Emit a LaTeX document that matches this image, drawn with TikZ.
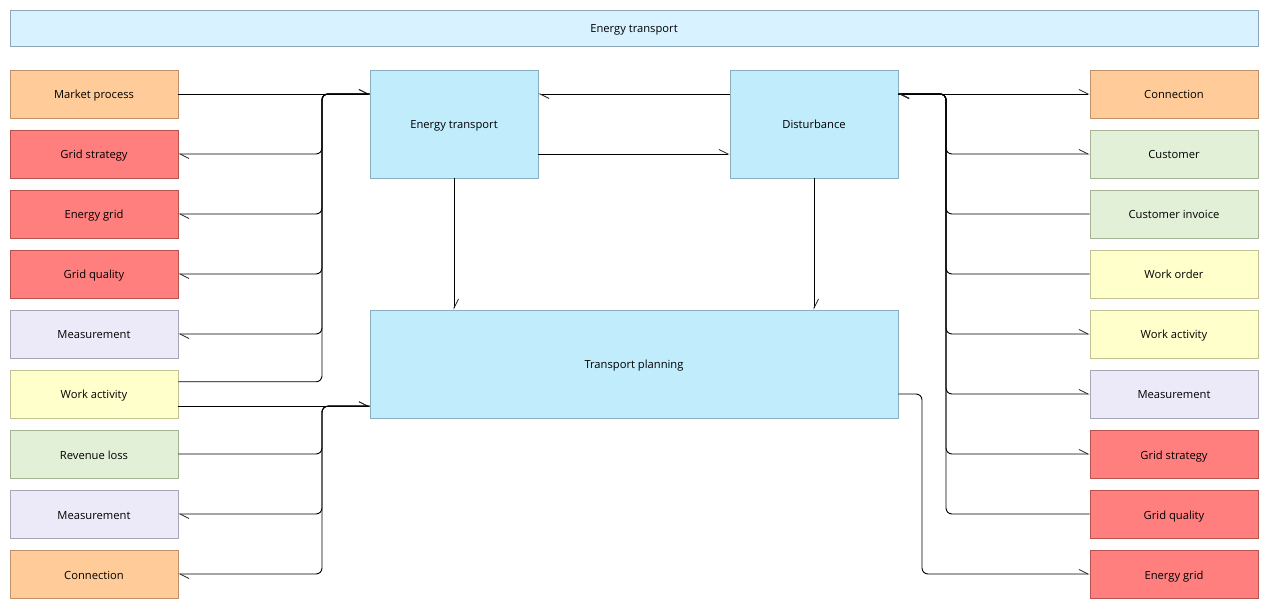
\documentclass[tikz,border=0pt]{standalone}
\usepackage{fontspec}
\setmainfont{Open Sans}
\usetikzlibrary{arrows.meta,calc}
\definecolor{orfill}{HTML}{FFCC99}\definecolor{ordraw}{HTML}{C09068}
\definecolor{rdfill}{HTML}{FF7F7F}\definecolor{rddraw}{HTML}{B85450}
\definecolor{lvfill}{HTML}{ECEAF8}\definecolor{lvdraw}{HTML}{A8A6B6}
\definecolor{ylfill}{HTML}{FFFFCC}\definecolor{yldraw}{HTML}{C2C292}
\definecolor{gnfill}{HTML}{E3F0D8}\definecolor{gndraw}{HTML}{A6B496}
\definecolor{bufill}{HTML}{C1ECFC}\definecolor{budraw}{HTML}{88AEC0}
\definecolor{ttfill}{HTML}{D9F2FF}\definecolor{ttdraw}{HTML}{8AA8B8}
\begin{document}
\begin{tikzpicture}[x=1pt,y=-1pt,
  box/.style={draw,line width=0.8pt,minimum width=168pt,minimum height=48pt,inner sep=0pt,
    text height=10pt,text depth=0pt,font=\fontsize{11.2}{13}\selectfont},
  ob/.style={box,fill=orfill,draw=ordraw},
  rb/.style={box,fill=rdfill,draw=rddraw},
  lb/.style={box,fill=lvfill,draw=lvdraw},
  yb/.style={box,fill=ylfill,draw=yldraw},
  gb/.style={box,fill=gnfill,draw=gndraw},
  bb/.style={box,fill=bufill,draw=budraw,minimum height=108pt},
  conn/.style={line width=0.9pt,rounded corners=6pt},
  arr/.style={conn,-{Straight Barb[left,length=9pt,width=9pt,line width=0.8pt,color=black!85]}}
]
\useasboundingbox (0,0) rectangle (1269,609);
\node[box,fill=ttfill,draw=ttdraw,minimum width=1248pt,minimum height=36pt] (T) at (634,28) {Energy transport};
% left column
\node[ob] (MP) at (94,94) {Market process};
\node[rb] (GS) at (94,154) {Grid strategy};
\node[rb] (EG) at (94,214) {Energy grid};
\node[rb] (GQ) at (94,274) {Grid quality};
\node[lb] (ME) at (94,334) {Measurement};
\node[yb] (WA) at (94,394) {Work activity};
\node[gb] (RL) at (94,454) {Revenue loss};
\node[lb] (MB) at (94,514) {Measurement};
\node[ob] (CO) at (94,574) {Connection};
% right column
\node[ob] (CN) at (1174,94) {Connection};
\node[gb] (CU) at (1174,154) {Customer};
\node[gb] (CI) at (1174,214) {Customer invoice};
\node[yb] (WO) at (1174,274) {Work order};
\node[yb] (WR) at (1174,334) {Work activity};
\node[lb] (MR) at (1174,394) {Measurement};
\node[rb] (GR) at (1174,454) {Grid strategy};
\node[rb] (QR) at (1174,514) {Grid quality};
\node[rb] (ER) at (1174,574) {Energy grid};
% centre
\node[bb] (ET) at (454,124) {Energy transport};
\node[bb] (DI) at (814,124) {Disturbance};
\node[bb,minimum width=528pt] (TP) at (634,364) {Transport planning};
% helper coordinates
\coordinate (busL) at (322,0);
\coordinate (busR) at (946,0);
\coordinate (busT) at (922,0);
\coordinate (wa1) at ($(WA.east)!0.5!(WA.north east)$);
\coordinate (wa2) at ($(WA.east)!0.5!(WA.south east)$);
\coordinate (etin) at (ET.west |- MP.east);
\coordinate (tpin) at (TP.west |- wa2);
\coordinate (dout) at (DI.east |- CN.west);
\coordinate (tpout) at (TP.east |- MR.west);
% left side connectors
\draw[arr] (MP.east) -- (etin);
\draw[arr] (wa1) -| (busL |- etin) -- (etin);
\draw[arr] (etin) -| (busL |- GS.east) -- (GS.east);
\draw[arr] (etin) -| (busL |- EG.east) -- (EG.east);
\draw[arr] (etin) -| (busL |- GQ.east) -- (GQ.east);
\draw[arr] (etin) -| (busL |- ME.east) -- (ME.east);
\draw[arr] (wa2) -- (tpin);
\draw[arr] (RL.east) -| (busL |- tpin) -- (tpin);
\draw[arr] (tpin) -| (busL |- MB.east) -- (MB.east);
\draw[arr] (tpin) -| (busL |- CO.east) -- (CO.east);
% centre connectors
\draw[arr] (DI.west |- MP.east) -- (ET.east |- MP.east);
\draw[arr] (ET.east |- GS.east) -- (DI.west |- GS.east);
\draw[arr] (ET.south) -- (ET.south |- TP.north);
\draw[arr] (DI.south) -- (DI.south |- TP.north);
% right side connectors
\draw[arr] (dout) -- (CN.west);
\draw[arr] (dout) -| (busR |- CU.west) -- (CU.west);
\draw[arr] (CI.west) -| (busR |- dout) -- (dout);
\draw[arr] (WO.west) -| (busR |- dout) -- (dout);
\draw[arr] (dout) -| (busR |- WR.west) -- (WR.west);
\draw[arr] (dout) -| (busR |- MR.west) -- (MR.west);
\draw[arr] (dout) -| (busR |- GR.west) -- (GR.west);
\draw[arr] (QR.west) -| (busR |- dout) -- (dout);
\draw[arr] (tpout) -| (busT |- ER.west) -- (ER.west);
\end{tikzpicture}
\end{document}
